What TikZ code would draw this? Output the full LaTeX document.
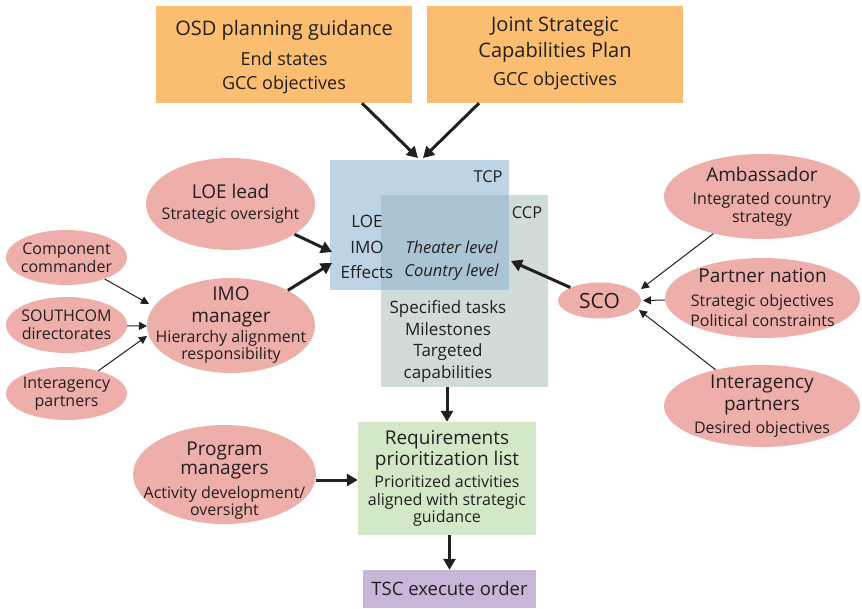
\documentclass[tikz,border=0pt]{standalone}
\usepackage{fontspec}
\setmainfont{Open Sans}
\usetikzlibrary{shapes.geometric,arrows.meta}
\definecolor{orangebox}{HTML}{FBBD6F}
\definecolor{pinkell}{HTML}{EEAFAA}
\definecolor{tcpblue}{HTML}{BED3E3}
\definecolor{ccpgray}{HTML}{D0DBDA}
\definecolor{overlapc}{HTML}{AAC4D4}
\definecolor{reqgreen}{HTML}{D2E8C7}
\definecolor{tscpurple}{HTML}{C7B6D7}
\definecolor{ink}{HTML}{231F20}
\newcommand{\fsTop}{\fontsize{20}{24}\selectfont}
\newcommand{\fsT}{\fontsize{19}{21}\selectfont}
\tikzset{
  ell/.style={ellipse, fill=pinkell, inner sep=-30pt, align=center, text=ink},
  box/.style={rectangle, inner sep=0pt, align=center, text=ink},
  lbl/.style={inner sep=0pt, align=center, text=ink},
  thickarr/.style={line width=3pt, draw=ink, -{Triangle[length=11pt,width=12pt]}},
  thinarr/.style={line width=1pt, draw=ink, -{Triangle[length=8pt,width=8pt]}},
}
\begin{document}
\begin{tikzpicture}[x=1pt,y=-1pt]
\useasboundingbox (0,0) rectangle (862,608);
% top boxes
\node[box, fill=orangebox, minimum width=256pt, minimum height=97pt] (osd) at (284,54.5) {};
\node[lbl, font=\fontsize{18}{24}\selectfont] (osdtxt) at ([yshift=-2.5pt]osd.center)
  {{\fsTop OSD planning guidance}\\[6pt]End states\\GCC objectives};
\node[box, fill=orangebox, minimum width=256pt, minimum height=97pt] (jscp) at (555,54.5) {};
\node[lbl, font=\fontsize{18}{26}\selectfont] (jscptxt) at ([yshift=1.5pt]jscp.center)
  {{\fsTop Joint Strategic}\\{\fsTop Capabilities Plan}\\[2pt]GCC objectives};
% TCP / CCP
\node[box, fill=ccpgray, minimum width=167pt, minimum height=192pt] (ccp) at (464.5,291) {};
\node[box, fill=tcpblue, minimum width=179pt, minimum height=130pt] (tcp) at (419.5,225) {};
\fill[overlapc] (ccp.north west) rectangle (tcp.south east);
\node[lbl, font=\fontsize{16.4}{19}\selectfont] (tcpl) at (488,177) {TCP};
\node[lbl, font=\fontsize{16.4}{19}\selectfont] (ccpl) at (527,213) {CCP};
\node[lbl, font=\fontsize{17}{25.5}\selectfont] (loeimo) at (367,247) {LOE\\IMO\\Effects};
\node[lbl, font=\fontsize{16.5}{23}\selectfont\itshape] (levels) at (451.5,261) {Theater level\\Country level};
\node[lbl, font=\fontsize{17}{21.7}\selectfont] (spec) at (448,341.5) {Specified tasks\\Milestones\\Targeted\\capabilities};
% left ellipses
\node[ell, minimum width=169pt, minimum height=92pt, font=\fontsize{16}{21}\selectfont] (loe) at (230.5,204)
  {{\fsT LOE lead}\\Strategic oversight};
\node[ell, minimum width=168pt, minimum height=95pt, font=\fontsize{16}{17}\selectfont] (imo) at (231,325.5)
  {{\fsT IMO}\\[5pt]{\fsT manager}\\[3pt]Hierarchy alignment\\responsibility};
\node[ell, minimum width=121pt, minimum height=55pt, font=\fontsize{16}{18}\selectfont] (comp) at (66.5,257.5)
  {Component\\commander};
\node[ell, minimum width=121pt, minimum height=56pt, font=\fontsize{16}{18}\selectfont] (south) at (66.5,325)
  {SOUTHCOM\\directorates};
\node[ell, minimum width=121pt, minimum height=53pt, font=\fontsize{16}{18}\selectfont] (ial) at (66.5,393.5)
  {Interagency\\partners};
% right ellipses
\node[ell, minimum width=83pt, minimum height=36pt, font=\fontsize{21}{24}\selectfont] (sco) at (599.5,300.5) {SCO};
\node[ell, minimum width=196pt, minimum height=85pt, font=\fontsize{16}{18}\selectfont] (amb) at (762,196.5)
  {{\fsT Ambassador}\\[5pt]Integrated country\\strategy};
\node[ell, minimum width=195pt, minimum height=80pt, font=\fontsize{16}{20}\selectfont] (pn) at (762.5,298)
  {{\fsT Partner nation}\\[4pt]Strategic objectives\\Political constraints};
\node[ell, minimum width=196pt, minimum height=82pt, font=\fontsize{16}{22}\selectfont] (iar) at (762,406)
  {{\fsT Interagency}\\{\fsT partners}\\[1pt]Desired objectives};
% bottom
\node[box, fill=reqgreen, minimum width=178pt, minimum height=113pt, font=\fontsize{16}{17.5}\selectfont] (req) at (447,478.5)
  {{\fsT Requirements}\\[1.5pt]{\fsT prioritization list}\\[4.5pt]Prioritized activities\\aligned with strategic\\guidance};
\node[box, fill=tscpurple, minimum width=173pt, minimum height=38pt, font=\fontsize{18.5}{21}\selectfont] (tsc) at (449.5,589)
  {TSC execute order};
\node[ell, minimum width=183pt, minimum height=99pt] (pm) at (224.5,474.5) {};
\node[lbl, font=\fontsize{16}{17}\selectfont] (pmtxt) at ([yshift=-6.5pt]pm.center)
  {{\fsT Program}\\[2pt]{\fsT managers}\\[7pt]Activity development/\\oversight};
% connector end points
\coordinate (tcptop1) at (418,158);
\coordinate (tcptop2) at (423,158);
\coordinate (tcpl1) at (332,252);
\coordinate (tcpl2) at (332,263);
\coordinate (ccpin) at (511,261);
\coordinate (imoin1) at (149,304);
\coordinate (imoin2) at (147,326);
\coordinate (imoin3) at (147,336);
\coordinate (scoin1) at (641,289);
\coordinate (scoin2) at (643,300.5);
\coordinate (scoin3) at (639,310);
% arrows
\draw[thickarr] (osd.south -| 362,0) -- (tcptop1);
\draw[thickarr] (jscp.south -| 479,0) -- (tcptop2);
\draw[thickarr] (loe) -- (tcpl1);
\draw[thickarr] (imo) -- (tcpl2);
\draw[thickarr] (sco) -- (ccpin);
\draw[thinarr] (comp) -- (imoin1);
\draw[thinarr] (south) -- (imoin2);
\draw[thinarr] (ial) -- (imoin3);
\draw[thinarr] (amb) -- (scoin1);
\draw[thinarr] (pn) -- (scoin2);
\draw[thinarr] (iar) -- (scoin3);
\draw[thickarr] (ccp.south -| req.north) -- (req.north);
\draw[thickarr] (pm.east |- 0,480) -- (req.west |- 0,480);
\draw[thickarr] (req.south -| tsc.north) -- (tsc.north);
\end{tikzpicture}
\end{document}
